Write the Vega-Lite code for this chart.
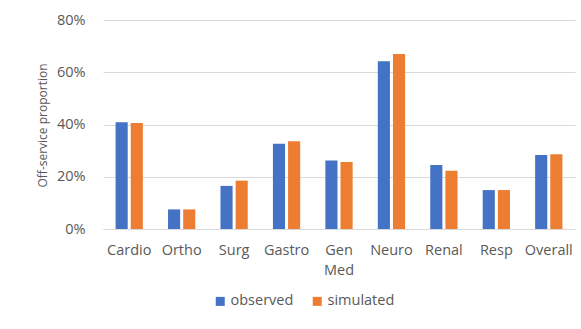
{
  "$schema": "https://vega.github.io/schema/vega-lite/v6.json",
  "autosize": {"type": "none"},
  "width": 472,
  "height": 209,
  "padding": {"left": 103, "top": 20, "right": 6, "bottom": 100},
  "background": "white",
  "config": {
    "font": "Open Sans",
    "view": {"stroke": null},
    "axis": {"labelColor": "#595959", "titleColor": "#595959", "labelFont": "Open Sans", "titleFont": "Open Sans"},
    "legend": {"labelColor": "#595959", "labelFont": "Open Sans"}
  },
  "data": {
    "values": [
      {"ward": "Cardio", "series": "observed", "value": 0.409},
      {"ward": "Cardio", "series": "simulated", "value": 0.406},
      {"ward": "Ortho", "series": "observed", "value": 0.075},
      {"ward": "Ortho", "series": "simulated", "value": 0.075},
      {"ward": "Surg", "series": "observed", "value": 0.165},
      {"ward": "Surg", "series": "simulated", "value": 0.185},
      {"ward": "Gastro", "series": "observed", "value": 0.326},
      {"ward": "Gastro", "series": "simulated", "value": 0.336},
      {"ward": "Gen Med", "series": "observed", "value": 0.262},
      {"ward": "Gen Med", "series": "simulated", "value": 0.256},
      {"ward": "Neuro", "series": "observed", "value": 0.642},
      {"ward": "Neuro", "series": "simulated", "value": 0.670},
      {"ward": "Renal", "series": "observed", "value": 0.245},
      {"ward": "Renal", "series": "simulated", "value": 0.223},
      {"ward": "Resp", "series": "observed", "value": 0.149},
      {"ward": "Resp", "series": "simulated", "value": 0.149},
      {"ward": "Overall", "series": "observed", "value": 0.283},
      {"ward": "Overall", "series": "simulated", "value": 0.286}
    ]
  },
  "mark": {"type": "bar"},
  "encoding": {
    "x": {
      "field": "ward",
      "type": "nominal",
      "sort": null,
      "scale": {"paddingInner": 0.48, "paddingOuter": 0.24},
      "axis": {
        "title": null,
        "labelAngle": 0,
        "labelFontSize": 14.5,
        "labelPadding": 14,
        "labelLineHeight": 20,
        "labelExpr": "datum.value == 'Gen Med' ? ['Gen', 'Med'] : datum.value",
        "ticks": false,
        "domainColor": "#d9d9d9",
        "domainWidth": 1
      }
    },
    "xOffset": {
      "field": "series",
      "type": "nominal",
      "scale": {"paddingInner": 0.2, "paddingOuter": 0}
    },
    "y": {
      "field": "value",
      "type": "quantitative",
      "scale": {"domain": [0, 0.8]},
      "axis": {
        "title": "Off-service proportion",
        "titleFontSize": 12,
        "titleFontWeight": "normal",
        "titleX": -61,
        "titleY": 105,
        "titleAngle": -90,
        "titleAlign": "center",
        "titleBaseline": "middle",
        "format": ".0%",
        "values": [0, 0.2, 0.4, 0.6, 0.8],
        "labelFontSize": 14.5,
        "labelPadding": 18,
        "domain": false,
        "ticks": false,
        "gridColor": "#d9d9d9",
        "gridWidth": 1
      }
    },
    "color": {
      "field": "series",
      "type": "nominal",
      "scale": {"domain": ["observed", "simulated"], "range": ["#4472C4", "#ED7D31"]},
      "legend": {
        "title": null,
        "orient": "none",
        "direction": "horizontal",
        "legendX": 110,
        "legendY": 274,
        "symbolType": "square",
        "symbolSize": 81,
        "symbolStrokeWidth": 0,
        "labelFontSize": 14.5,
        "labelOffset": 3,
        "columnPadding": 16
      }
    }
  }
}
